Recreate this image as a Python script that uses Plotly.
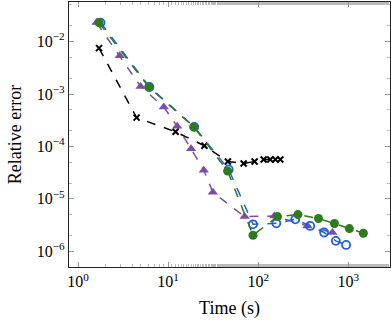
import plotly.graph_objects as go

# data (time in s, relative error)
black_t = [1.71, 4.47, 12.1, 25.3, 46.1, 68.9, 91.2, 115, 136, 155, 176]
black_err = [0.0075, 3.54e-4, 1.90e-4, 1.03e-4, 5.16e-5, 4.73e-5, 5.16e-5, 5.64e-5, 5.64e-5, 5.64e-5, 5.64e-5]

purple_t = [1.61, 2.90, 4.95, 8.96, 12.6, 18.0, 24.9, 31.4, 70.7, 151, 352, 667]
purple_err = [0.0230, 0.00535, 0.00139, 5.66e-4, 2.42e-4, 9.0e-5, 3.53e-5, 1.33e-5, 4.59e-6, 4.71e-6, 3.04e-6, 2.28e-6]

blue_t = [1.78, 6.2, 19.5, 47, 87.6, 159, 258, 378, 539, 727, 946]
blue_err = [0.0230, 0.00136, 2.36e-4, 3.64e-5, 3.27e-6, 3.42e-6, 4.07e-6, 3.04e-6, 2.28e-6, 1.58e-6, 1.32e-6]

green_t = [1.71, 6.11, 19.3, 45.8, 87.6, 164, 276, 467, 702, 1028, 1470]
green_err = [0.0230, 0.00136, 2.36e-4, 3.38e-5, 2.02e-6, 4.59e-6, 5.01e-6, 4.21e-6, 3.38e-6, 2.71e-6, 2.21e-6]

x_ticks = [1, 10, 100, 1000]
x_labels = ["10<sup>0</sup>", "10<sup>1</sup>", "10<sup>2</sup>", "10<sup>3</sup>"]
y_ticks = [1e-6, 1e-5, 1e-4, 1e-3, 1e-2]
y_labels = ["10<sup>\u22126</sup>", "10<sup>\u22125</sup>", "10<sup>\u22124</sup>",
            "10<sup>\u22123</sup>", "10<sup>\u22122</sup>"]

fig = go.Figure()
fig.add_scatter(
    x=black_t, y=black_err, mode="lines+markers",
    line=dict(color="black", width=1.5, dash="dash"),
    marker=dict(symbol="x-thin", size=6, line=dict(color="black", width=2))
)
fig.add_scatter(
    x=purple_t, y=purple_err, mode="lines+markers",
    line=dict(color="#7b4ea6", width=1.5, dash="dash"),
    marker=dict(symbol="triangle-up", size=9, color="#7b4ea6")
)
fig.add_scatter(
    x=blue_t, y=blue_err, mode="lines+markers",
    line=dict(color="#1f5fe0", width=1.5, dash="dash"),
    marker=dict(symbol="circle-open", size=8, color="#1f5fe0", line=dict(width=1.8))
)
fig.add_scatter(
    x=green_t, y=green_err, mode="lines+markers",
    line=dict(color="#2e7a1e", width=1.5, dash="dash"),
    marker=dict(symbol="circle", size=9, color="#2e7a1e")
)

axis_style = dict(
    type="log", showgrid=False, zeroline=False, automargin=False,
    showline=True, linecolor="#222", linewidth=1.3, mirror="allticks",
    ticks="inside", ticklen=5, tickcolor="#999",
    minor=dict(ticks="inside", ticklen=3, tickcolor="#bbb"),
    tickfont=dict(family="Liberation Serif", size=16, color="black")
)

fig.update_layout(
    width=391, height=321,
    margin=dict(l=69, r=1, t=2, b=54),
    showlegend=False,
    plot_bgcolor="white", paper_bgcolor="white",
    font=dict(family="Liberation Serif", size=15, color="black"),
    xaxis=dict(axis_style, range=[-0.1, 3.463], tickvals=x_ticks, ticktext=x_labels,
               title=dict(text="Time (s)", standoff=12)),
    yaxis=dict(axis_style, range=[-6.3, -1.245], tickvals=y_ticks, ticktext=y_labels,
               title=dict(text="Relative error", standoff=10))
)

# page body has a default margin; drop it so the figure sits at the window edge
fig.write_html("out.html", config={"displayModeBar": False},
               post_script="document.body.style.margin='0';")
